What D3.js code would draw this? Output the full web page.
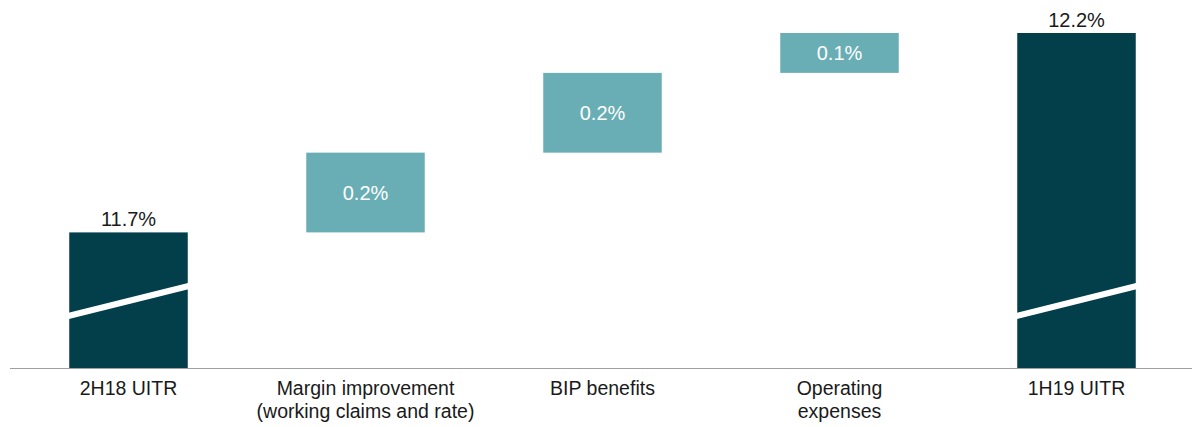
<!DOCTYPE html>
<html>
<head>
<meta charset="utf-8">
<script src="https://cdn.jsdelivr.net/npm/d3@7"></script>
<style>
  body { margin: 0; background: #fff; }
  text { font-family: "Liberation Sans", Arial, sans-serif; }
</style>
</head>
<body>
<div class="mainCont"></div>
<script>
// waterfall data
var categories = ["2H18 UITR", "Margin improvement\n(working claims and rate)", "BIP benefits", "Operating\nexpenses", "1H19 UITR"];
var values = [11.7, 0.2, 0.2, 0.1, 12.2];
var kinds = ["total", "step", "step", "step", "total"];
var valueLabels = ["11.7%", "0.2%", "0.2%", "0.1%", "12.2%"];

var width = 1192,
    height = 427,
    baseline = 368;

var darkColor = "#033f4a",
    lightColor = "#69aeb4";

// build start/end for each bar
var running = 0;
var bars = categories.map(function(c, i) {
    var start, end;
    if (kinds[i] == "total") {
        start = null;
        end = values[i];
        running = values[i];
    } else {
        start = running;
        end = running + values[i];
        running = end;
    }
    return { cat: c, kind: kinds[i], start: start, end: end, label: valueLabels[i] };
});

var x = d3.scaleBand()
    .domain(categories)
    .range([10, 1195])
    .paddingInner(0.5)
    .paddingOuter(0.25);

// broken axis: baseline sits at 11.36
var y = d3.scaleLinear()
    .domain([11.36, 12.2])
    .range([baseline, 33]);

var svg = d3.select(".mainCont").append("svg")
    .attr("width", width)
    .attr("height", height);

var g = svg.selectAll(".bar")
    .data(bars)
    .enter().append("g")
    .attr("class", "bar");

g.append("rect")
    .attr("x", function(d) { return x(d.cat); })
    .attr("width", x.bandwidth())
    .attr("y", function(d) { return y(d.end); })
    .attr("height", function(d) {
        var bottom = d.kind == "total" ? baseline : y(d.start);
        return bottom - y(d.end);
    })
    .style("fill", function(d) { return d.kind == "total" ? darkColor : lightColor; });

// break marks on the totals
g.filter(function(d) { return d.kind == "total"; })
    .append("line")
    .attr("x1", function(d) { return x(d.cat) - 1; })
    .attr("x2", function(d) { return x(d.cat) + x.bandwidth() + 1; })
    .attr("y1", baseline - 52)
    .attr("y2", baseline - 82)
    .style("stroke", "#fff")
    .style("stroke-width", 6);

// value labels
g.append("text")
    .attr("x", function(d) { return x(d.cat) + x.bandwidth() / 2; })
    .attr("y", function(d) {
        if (d.kind == "total") return y(d.end) - 6;
        return (y(d.start) + y(d.end)) / 2;
    })
    .attr("dy", function(d) { return d.kind == "total" ? 0 : ".35em"; })
    .attr("text-anchor", "middle")
    .style("font-size", "20px")
    .style("fill", function(d) { return d.kind == "total" ? "#1a1a1a" : "#fff"; })
    .text(function(d) { return d.label; });

// axis line
svg.append("line")
    .attr("x1", 10)
    .attr("x2", width)
    .attr("y1", baseline + 0.5)
    .attr("y2", baseline + 0.5)
    .style("stroke", "#a0a0a0")
    .style("stroke-width", 1);

// category labels
var labels = svg.selectAll(".cat")
    .data(categories)
    .enter().append("text")
    .attr("class", "cat")
    .attr("text-anchor", "middle")
    .attr("x", function(d) { return x(d) + x.bandwidth() / 2; })
    .attr("y", 395)
    .style("font-size", "19.5px")
    .style("fill", "#1a1a1a");

labels.selectAll("tspan")
    .data(function(d) { return d.split("\n"); })
    .enter().append("tspan")
    .attr("x", function() { return d3.select(this.parentNode).attr("x"); })
    .attr("dy", function(d, i) { return i == 0 ? 0 : 23; })
    .text(function(d) { return d; });
</script>
</body>
</html>
